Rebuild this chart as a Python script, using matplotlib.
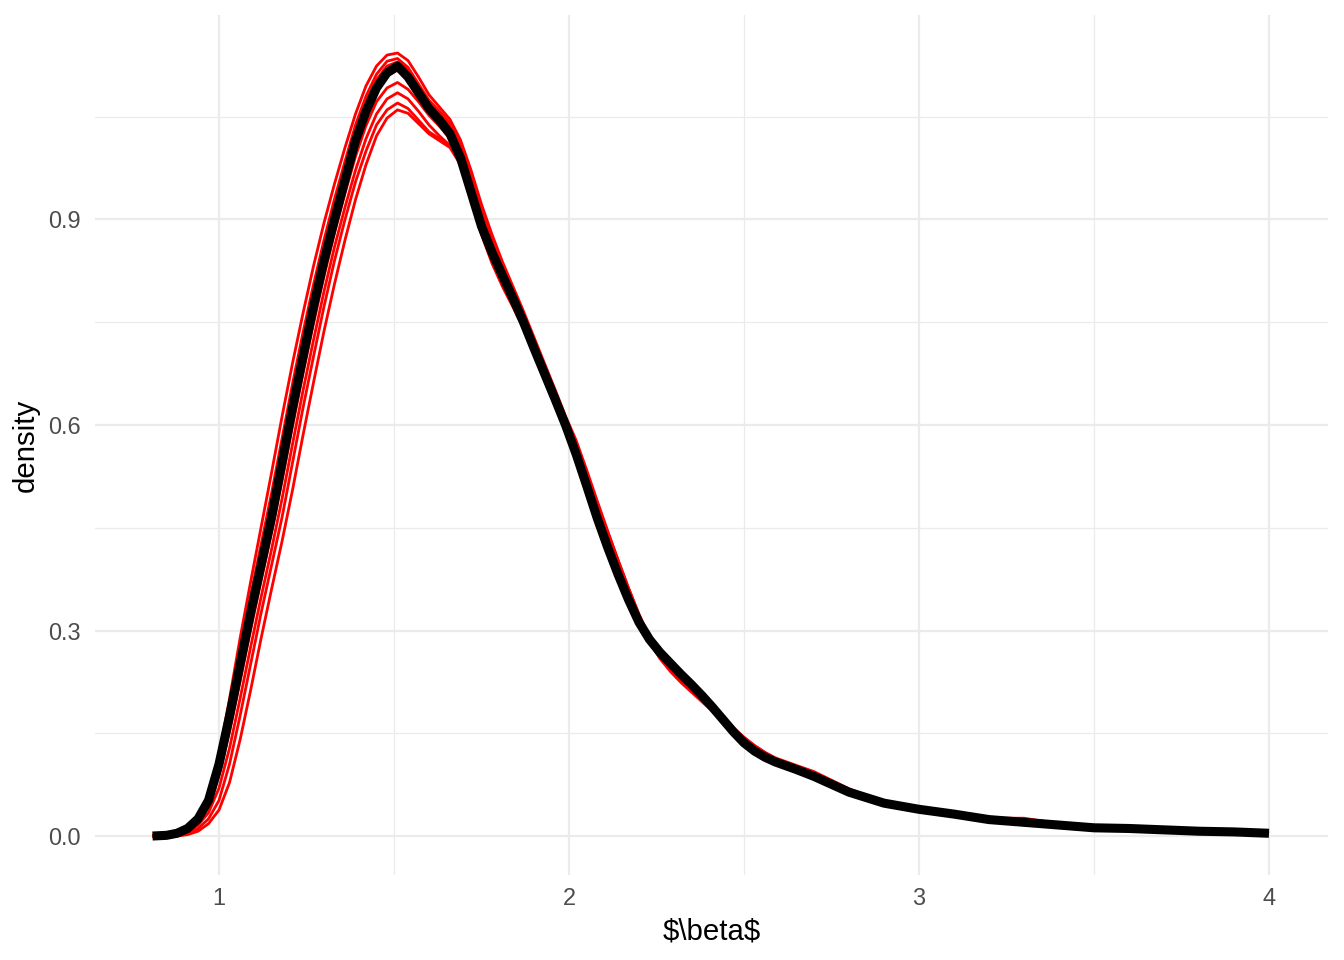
import matplotlib
matplotlib.use("Agg")
import matplotlib.pyplot as plt

# beta grid shared by every density curve
beta = [0.81, 0.85, 0.88, 0.91, 0.94, 0.97, 1.00, 1.03, 1.06, 1.09,
        1.12, 1.15, 1.18, 1.21, 1.24, 1.27, 1.30, 1.33, 1.36, 1.39,
        1.42, 1.45, 1.48, 1.51, 1.54, 1.57, 1.60, 1.63, 1.66, 1.69,
        1.72, 1.75, 1.78, 1.81, 1.84, 1.87, 1.90, 1.93, 1.96, 1.99,
        2.02, 2.05, 2.08, 2.11, 2.14, 2.17, 2.20, 2.23, 2.26, 2.29,
        2.32, 2.35, 2.38, 2.41, 2.44, 2.47, 2.50, 2.53, 2.56, 2.59,
        2.65, 2.70, 2.80, 2.90, 3.00, 3.10, 3.20, 3.30, 3.40, 3.50,
        3.60, 3.70, 3.80, 3.90, 4.00]

# pooled density (thick black)
dens_all = [0.000, 0.001, 0.004, 0.011, 0.025, 0.052, 0.105, 0.175, 0.250, 0.325,
            0.395, 0.465, 0.545, 0.625, 0.700, 0.773, 0.840, 0.900, 0.958, 1.015,
            1.058, 1.092, 1.114, 1.124, 1.108, 1.085, 1.062, 1.045, 1.025, 0.990,
            0.940, 0.890, 0.852, 0.818, 0.785, 0.750, 0.712, 0.675, 0.638, 0.600,
            0.558, 0.512, 0.465, 0.422, 0.382, 0.345, 0.312, 0.287, 0.268, 0.252,
            0.236, 0.221, 0.205, 0.188, 0.170, 0.152, 0.136, 0.124, 0.115, 0.108,
            0.097, 0.087, 0.064, 0.048, 0.039, 0.032, 0.024, 0.020, 0.016, 0.012,
            0.011, 0.009, 0.007, 0.006, 0.004]

# per-chain densities (thin red)
dens_a = [0.000, 0.001, 0.004, 0.012, 0.027, 0.056, 0.118, 0.200, 0.288, 0.370,
          0.450, 0.530, 0.612, 0.690, 0.763, 0.832, 0.895, 0.952, 1.005, 1.054,
          1.095, 1.124, 1.140, 1.143, 1.132, 1.108, 1.082, 1.064, 1.046, 1.016,
          0.972, 0.922, 0.878, 0.838, 0.802, 0.766, 0.728, 0.690, 0.652, 0.613,
          0.578, 0.535, 0.490, 0.446, 0.403, 0.362, 0.322, 0.286, 0.262, 0.244,
          0.229, 0.215, 0.200, 0.186, 0.171, 0.157, 0.144, 0.132, 0.122, 0.114,
          0.103, 0.094, 0.069, 0.049, 0.038, 0.030, 0.025, 0.025, 0.017, 0.012,
          0.011, 0.009, 0.007, 0.006, 0.004]
dens_b = [0.000, 0.001, 0.004, 0.011, 0.026, 0.055, 0.113, 0.190, 0.272, 0.350,
          0.425, 0.500, 0.580, 0.660, 0.735, 0.805, 0.870, 0.930, 0.985, 1.038,
          1.080, 1.112, 1.131, 1.135, 1.122, 1.098, 1.074, 1.058, 1.040, 1.010,
          0.966, 0.916, 0.872, 0.832, 0.796, 0.760, 0.722, 0.684, 0.646, 0.607,
          0.570, 0.530, 0.486, 0.444, 0.403, 0.362, 0.324, 0.290, 0.266, 0.247,
          0.232, 0.218, 0.203, 0.188, 0.173, 0.158, 0.144, 0.132, 0.122, 0.113,
          0.102, 0.093, 0.068, 0.050, 0.040, 0.032, 0.026, 0.026, 0.018, 0.013,
          0.011, 0.009, 0.007, 0.006, 0.004]
dens_c = [0.000, 0.001, 0.004, 0.011, 0.026, 0.053, 0.108, 0.183, 0.262, 0.340,
          0.413, 0.487, 0.566, 0.646, 0.720, 0.791, 0.855, 0.915, 0.971, 1.025,
          1.072, 1.104, 1.124, 1.130, 1.118, 1.095, 1.072, 1.055, 1.035, 1.000,
          0.955, 0.906, 0.866, 0.830, 0.795, 0.760, 0.722, 0.684, 0.646, 0.608,
          0.574, 0.532, 0.486, 0.442, 0.398, 0.356, 0.317, 0.283, 0.259, 0.240,
          0.224, 0.210, 0.196, 0.182, 0.168, 0.155, 0.142, 0.130, 0.120, 0.112,
          0.101, 0.091, 0.066, 0.047, 0.036, 0.029, 0.025, 0.024, 0.016, 0.012,
          0.010, 0.009, 0.007, 0.006, 0.004]
dens_d = [0.000, 0.001, 0.004, 0.011, 0.026, 0.054, 0.108, 0.178, 0.252, 0.327,
          0.398, 0.468, 0.548, 0.628, 0.704, 0.776, 0.842, 0.902, 0.958, 1.012,
          1.055, 1.090, 1.110, 1.118, 1.108, 1.088, 1.068, 1.052, 1.032, 0.998,
          0.948, 0.896, 0.856, 0.822, 0.790, 0.756, 0.719, 0.682, 0.645, 0.607,
          0.574, 0.532, 0.487, 0.444, 0.401, 0.360, 0.321, 0.287, 0.263, 0.245,
          0.230, 0.216, 0.202, 0.187, 0.172, 0.157, 0.143, 0.131, 0.121, 0.112,
          0.101, 0.092, 0.067, 0.049, 0.039, 0.031, 0.026, 0.025, 0.017, 0.012,
          0.011, 0.009, 0.007, 0.006, 0.004]
dens_e = [0.000, 0.000, 0.003, 0.008, 0.020, 0.043, 0.088, 0.152, 0.225, 0.300,
          0.372, 0.442, 0.518, 0.598, 0.675, 0.748, 0.817, 0.880, 0.938, 0.992,
          1.037, 1.072, 1.092, 1.100, 1.090, 1.072, 1.052, 1.036, 1.018, 0.985,
          0.938, 0.890, 0.853, 0.820, 0.787, 0.752, 0.715, 0.678, 0.641, 0.604,
          0.572, 0.530, 0.484, 0.440, 0.398, 0.358, 0.320, 0.289, 0.266, 0.247,
          0.229, 0.213, 0.198, 0.184, 0.169, 0.155, 0.142, 0.130, 0.119, 0.110,
          0.098, 0.089, 0.065, 0.047, 0.037, 0.030, 0.025, 0.025, 0.017, 0.012,
          0.011, 0.009, 0.007, 0.006, 0.004]
dens_f = [0.000, 0.000, 0.002, 0.006, 0.016, 0.034, 0.070, 0.128, 0.200, 0.275,
          0.348, 0.418, 0.492, 0.572, 0.650, 0.724, 0.795, 0.860, 0.918, 0.972,
          1.018, 1.054, 1.076, 1.085, 1.076, 1.058, 1.038, 1.022, 1.008, 0.980,
          0.936, 0.888, 0.850, 0.815, 0.782, 0.748, 0.712, 0.676, 0.640, 0.603,
          0.568, 0.526, 0.480, 0.438, 0.396, 0.355, 0.318, 0.284, 0.260, 0.242,
          0.227, 0.213, 0.199, 0.184, 0.170, 0.156, 0.143, 0.131, 0.120, 0.111,
          0.100, 0.091, 0.066, 0.046, 0.036, 0.029, 0.025, 0.024, 0.017, 0.013,
          0.011, 0.009, 0.008, 0.006, 0.004]
dens_g = [0.000, 0.000, 0.001, 0.004, 0.011, 0.025, 0.052, 0.105, 0.175, 0.250,
          0.325, 0.395, 0.465, 0.545, 0.625, 0.700, 0.773, 0.840, 0.900, 0.955,
          1.000, 1.038, 1.060, 1.070, 1.062, 1.045, 1.028, 1.018, 1.008, 0.982,
          0.935, 0.880, 0.838, 0.804, 0.774, 0.742, 0.708, 0.673, 0.638, 0.602,
          0.570, 0.527, 0.482, 0.439, 0.397, 0.356, 0.318, 0.287, 0.265, 0.248,
          0.232, 0.217, 0.201, 0.185, 0.170, 0.155, 0.141, 0.129, 0.119, 0.111,
          0.099, 0.090, 0.067, 0.049, 0.038, 0.031, 0.025, 0.023, 0.016, 0.012,
          0.011, 0.009, 0.007, 0.006, 0.004]
dens_h = [0.000, 0.000, 0.000, 0.002, 0.007, 0.018, 0.038, 0.078, 0.140, 0.212,
          0.288, 0.360, 0.430, 0.505, 0.585, 0.662, 0.737, 0.806, 0.870, 0.929,
          0.980, 1.022, 1.048, 1.060, 1.055, 1.040, 1.025, 1.015, 1.005, 0.980,
          0.932, 0.878, 0.836, 0.802, 0.772, 0.741, 0.707, 0.672, 0.637, 0.601,
          0.568, 0.525, 0.480, 0.436, 0.394, 0.353, 0.316, 0.284, 0.262, 0.244,
          0.228, 0.213, 0.198, 0.183, 0.168, 0.154, 0.140, 0.128, 0.118, 0.110,
          0.098, 0.089, 0.066, 0.047, 0.037, 0.030, 0.025, 0.024, 0.016, 0.012,
          0.011, 0.009, 0.007, 0.006, 0.004]

chains = [dens_a, dens_b, dens_c, dens_d, dens_e, dens_f, dens_g, dens_h]

x_major = [1, 2, 3, 4]
x_minor = [1.5, 2.5, 3.5]
y_major = [0.0, 0.3, 0.6, 0.9]
y_minor = [0.15, 0.45, 0.75, 1.05]
y_labels = ["0.0", "0.3", "0.6", "0.9"]

plt.rcParams['font.family'] = ['Liberation Sans', 'DejaVu Sans']

fig = plt.figure(figsize=(7, 5), dpi=192)
# panel placed to match the ggplot layout (pixels of a 1344x960 canvas)
ax = fig.add_axes([95 / 1344, 85 / 960, 1233 / 1344, 860 / 960])

for d in chains:
    ax.plot(beta, d, color='#FF0000', lw=1.05, solid_capstyle='butt',
            solid_joinstyle='round', zorder=3)
ax.plot(beta, dens_all, color='black', lw=3.4, solid_capstyle='butt',
        solid_joinstyle='round', zorder=4)

ax.set_xlim(0.6457, 4.1686)
ax.set_ylim(-0.0569, 1.1985)

ax.set_xticks(x_major)
ax.set_xticks(x_minor, minor=True)
ax.set_yticks(y_major)
ax.set_yticks(y_minor, minor=True)
ax.set_yticklabels(y_labels)

ax.grid(which='major', color='#EBEBEB', lw=0.85)
ax.grid(which='minor', color='#EBEBEB', lw=0.45)
ax.set_axisbelow(True)
for s in ax.spines.values():
    s.set_visible(False)
ax.tick_params(which='both', length=0, colors='#4D4D4D', labelsize=8.8)
ax.tick_params(axis='x', pad=4.5)
ax.tick_params(axis='y', pad=5.3)

ax.set_xlabel("$\\beta$", parse_math=False, fontsize=11, color='black', labelpad=3)
ax.set_ylabel("density", fontsize=11, color='black', labelpad=3)

fig.savefig("out.png", dpi=192, facecolor='white')
